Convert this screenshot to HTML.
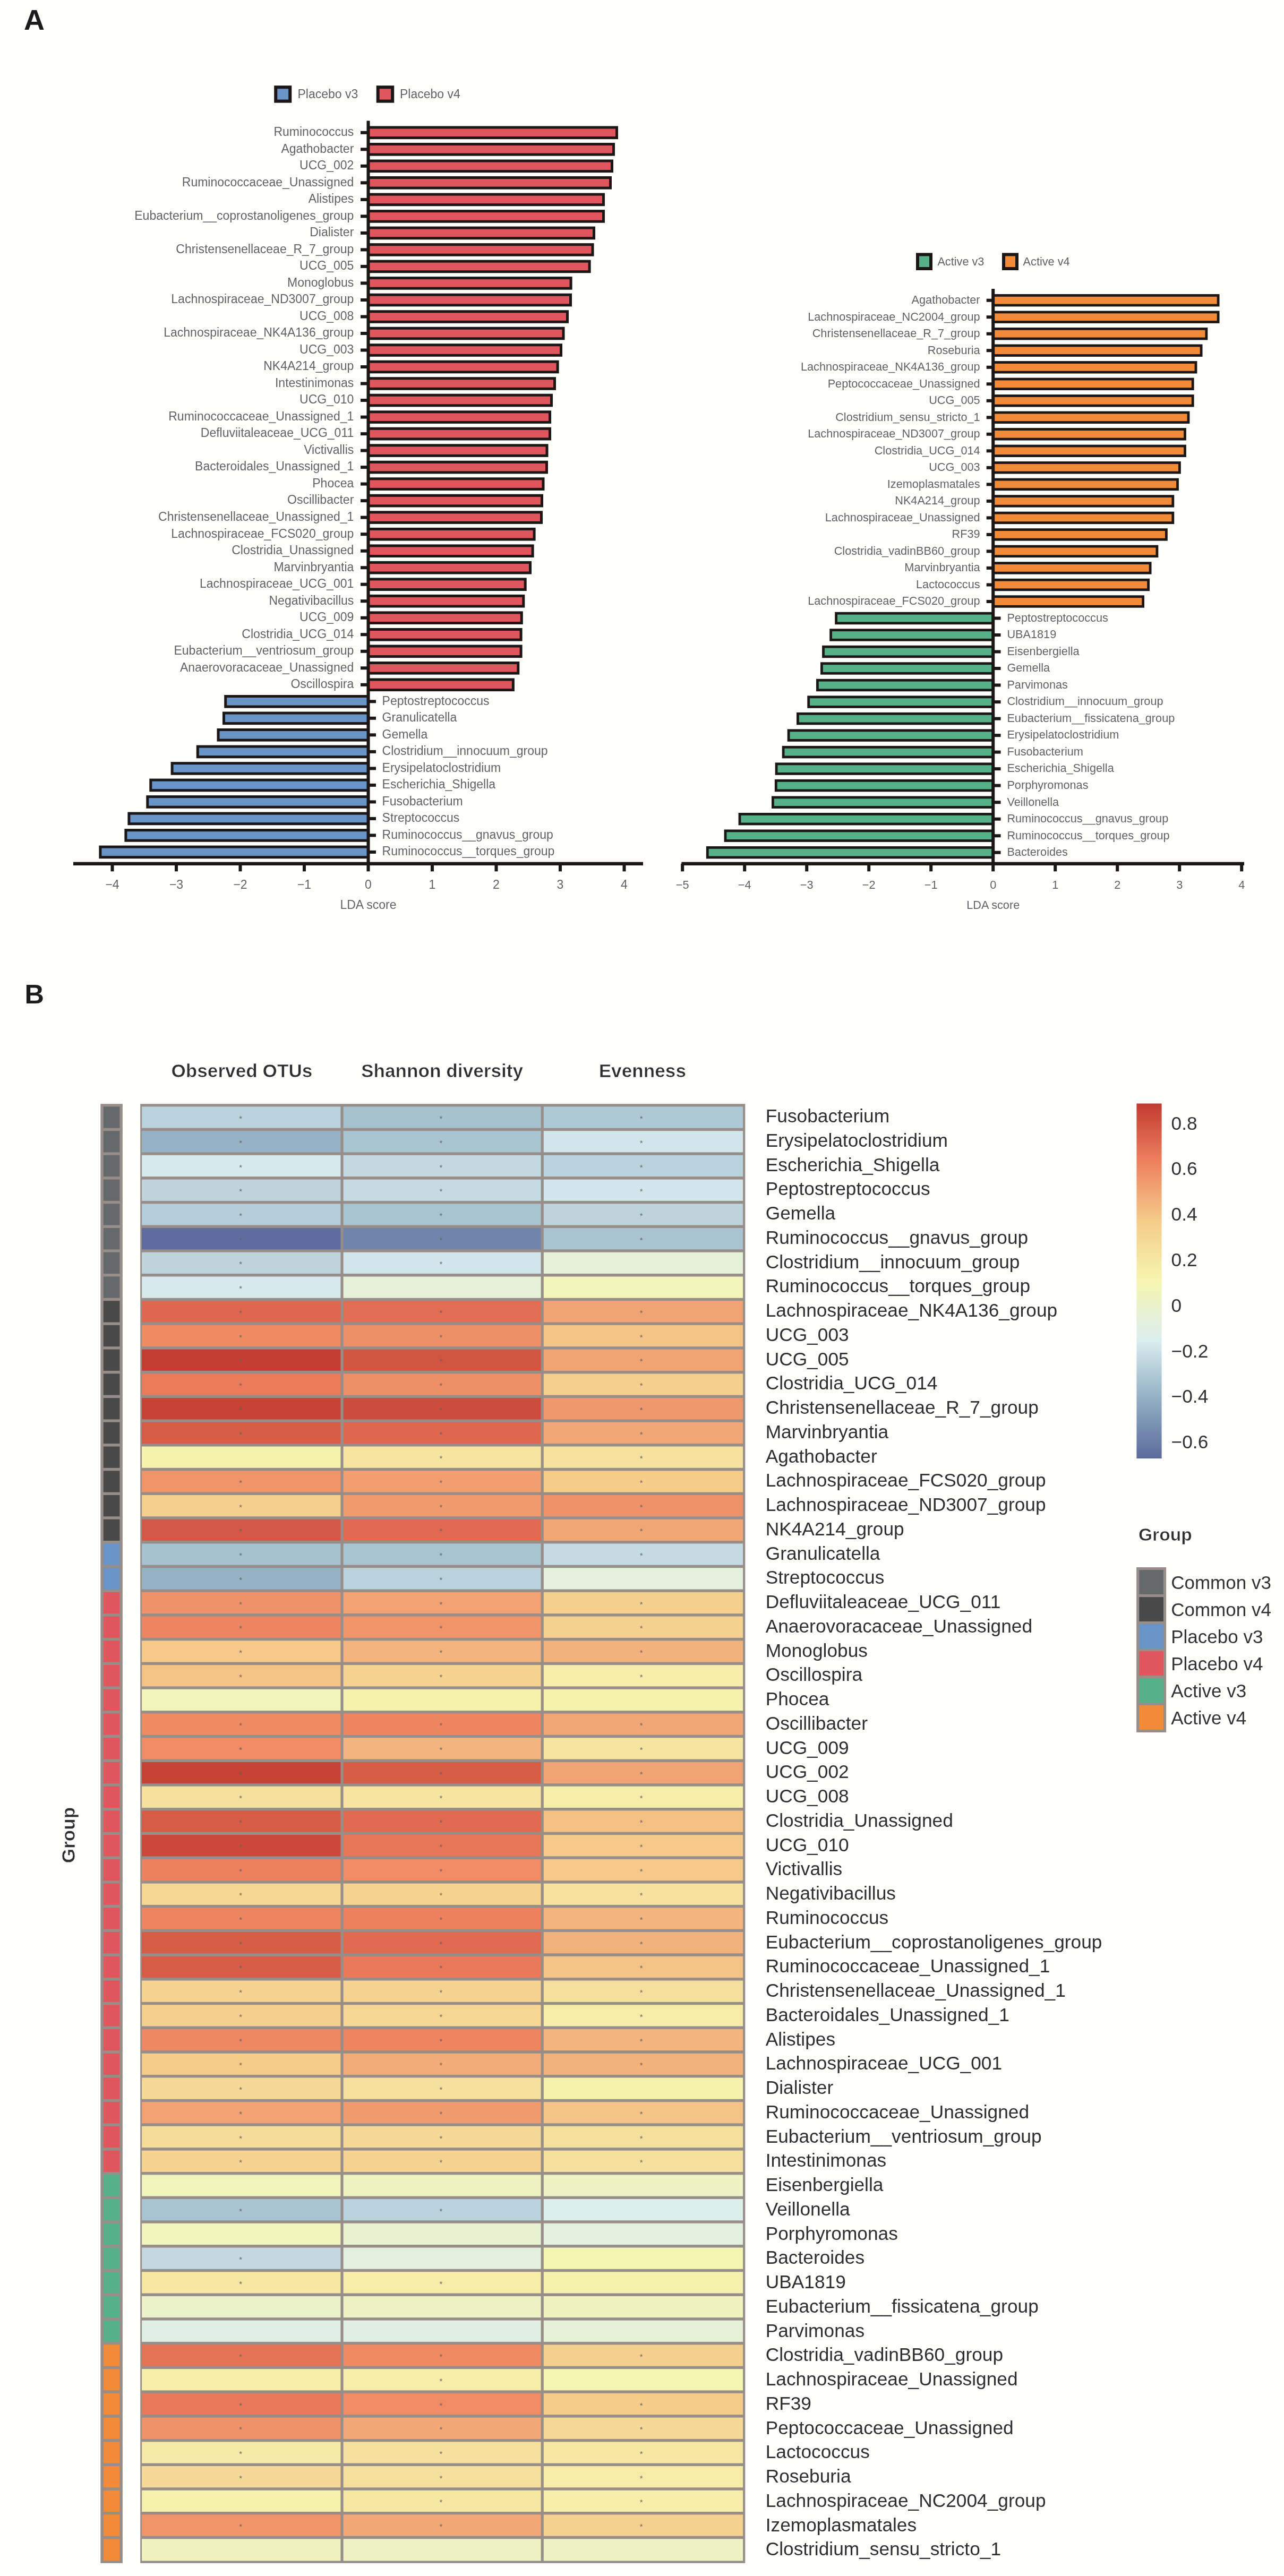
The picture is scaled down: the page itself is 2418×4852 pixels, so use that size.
<!DOCTYPE html>
<html lang="en"><head><meta charset="utf-8"><title>Figure</title>
<style>html,body{margin:0;padding:0;background:#fefefd;}svg{display:block;}</style></head>
<body>
<svg width="2418" height="4852" viewBox="0 0 2418 4852" font-family="'Liberation Sans', Arial, sans-serif">
<rect width="2418" height="4852" fill="#fefefd"/>
<filter id="soft" x="0" y="0" width="2418" height="4852" filterUnits="userSpaceOnUse"><feGaussianBlur stdDeviation="0.55"/></filter>
<g filter="url(#soft)">
<text x="45" y="56" font-size="54" font-weight="bold" fill="#1c1c1c">A</text>
<text x="46.5" y="1890.4" font-size="50.5" font-weight="bold" fill="#1c1c1c">B</text>
<rect x="519.2" y="164.2" width="27" height="26.4" fill="#6794c8" stroke="#1a1614" stroke-width="6"/>
<text x="560.5" y="184.5" font-size="23" fill="#626262">Placebo v3</text>
<rect x="711.7" y="164.2" width="27.5" height="26.4" fill="#e0575b" stroke="#1a1614" stroke-width="6"/>
<text x="753" y="184.5" font-size="23" fill="#626262">Placebo v4</text>
<rect x="1728" y="479.4" width="25" height="26.6" fill="#56b189" stroke="#1a1614" stroke-width="6"/>
<text x="1765.4" y="499.5" font-size="21.7" fill="#626262">Active v3</text>
<rect x="1890" y="479.4" width="25" height="26.6" fill="#f28b39" stroke="#1a1614" stroke-width="6"/>
<text x="1926.6" y="499.5" font-size="21.7" fill="#626262">Active v4</text>
<rect x="693.5" y="240.0" width="468.0" height="19.6" fill="#e0575b" stroke="#1a1614" stroke-width="5.0"/>
<rect x="679.0" y="246.8" width="14.5" height="6" fill="#1a1614"/>
<text x="666.3" y="256.1" text-anchor="end" font-size="23" fill="#626262">Ruminococcus</text>
<rect x="693.5" y="271.5" width="462.0" height="19.6" fill="#e0575b" stroke="#1a1614" stroke-width="5.0"/>
<rect x="679.0" y="278.3" width="14.5" height="6" fill="#1a1614"/>
<text x="666.3" y="287.6" text-anchor="end" font-size="23" fill="#626262">Agathobacter</text>
<rect x="693.5" y="303.0" width="459.0" height="19.6" fill="#e0575b" stroke="#1a1614" stroke-width="5.0"/>
<rect x="679.0" y="309.8" width="14.5" height="6" fill="#1a1614"/>
<text x="666.3" y="319.1" text-anchor="end" font-size="23" fill="#626262">UCG_002</text>
<rect x="693.5" y="334.5" width="456.0" height="19.6" fill="#e0575b" stroke="#1a1614" stroke-width="5.0"/>
<rect x="679.0" y="341.3" width="14.5" height="6" fill="#1a1614"/>
<text x="666.3" y="350.6" text-anchor="end" font-size="23" fill="#626262">Ruminococcaceae_Unassigned</text>
<rect x="693.5" y="366.1" width="443.0" height="19.6" fill="#e0575b" stroke="#1a1614" stroke-width="5.0"/>
<rect x="679.0" y="372.9" width="14.5" height="6" fill="#1a1614"/>
<text x="666.3" y="382.2" text-anchor="end" font-size="23" fill="#626262">Alistipes</text>
<rect x="693.5" y="397.6" width="443.0" height="19.6" fill="#e0575b" stroke="#1a1614" stroke-width="5.0"/>
<rect x="679.0" y="404.4" width="14.5" height="6" fill="#1a1614"/>
<text x="666.3" y="413.7" text-anchor="end" font-size="23" fill="#626262">Eubacterium__coprostanoligenes_group</text>
<rect x="693.5" y="429.1" width="425.0" height="19.6" fill="#e0575b" stroke="#1a1614" stroke-width="5.0"/>
<rect x="679.0" y="435.9" width="14.5" height="6" fill="#1a1614"/>
<text x="666.3" y="445.2" text-anchor="end" font-size="23" fill="#626262">Dialister</text>
<rect x="693.5" y="460.6" width="422.5" height="19.6" fill="#e0575b" stroke="#1a1614" stroke-width="5.0"/>
<rect x="679.0" y="467.4" width="14.5" height="6" fill="#1a1614"/>
<text x="666.3" y="476.7" text-anchor="end" font-size="23" fill="#626262">Christensenellaceae_R_7_group</text>
<rect x="693.5" y="492.1" width="416.6" height="19.6" fill="#e0575b" stroke="#1a1614" stroke-width="5.0"/>
<rect x="679.0" y="498.9" width="14.5" height="6" fill="#1a1614"/>
<text x="666.3" y="508.2" text-anchor="end" font-size="23" fill="#626262">UCG_005</text>
<rect x="693.5" y="523.6" width="381.6" height="19.6" fill="#e0575b" stroke="#1a1614" stroke-width="5.0"/>
<rect x="679.0" y="530.4" width="14.5" height="6" fill="#1a1614"/>
<text x="666.3" y="539.7" text-anchor="end" font-size="23" fill="#626262">Monoglobus</text>
<rect x="693.5" y="555.2" width="381.0" height="19.6" fill="#e0575b" stroke="#1a1614" stroke-width="5.0"/>
<rect x="679.0" y="562.0" width="14.5" height="6" fill="#1a1614"/>
<text x="666.3" y="571.2" text-anchor="end" font-size="23" fill="#626262">Lachnospiraceae_ND3007_group</text>
<rect x="693.5" y="586.7" width="375.0" height="19.6" fill="#e0575b" stroke="#1a1614" stroke-width="5.0"/>
<rect x="679.0" y="593.5" width="14.5" height="6" fill="#1a1614"/>
<text x="666.3" y="602.8" text-anchor="end" font-size="23" fill="#626262">UCG_008</text>
<rect x="693.5" y="618.2" width="367.5" height="19.6" fill="#e0575b" stroke="#1a1614" stroke-width="5.0"/>
<rect x="679.0" y="625.0" width="14.5" height="6" fill="#1a1614"/>
<text x="666.3" y="634.3" text-anchor="end" font-size="23" fill="#626262">Lachnospiraceae_NK4A136_group</text>
<rect x="693.5" y="649.7" width="363.0" height="19.6" fill="#e0575b" stroke="#1a1614" stroke-width="5.0"/>
<rect x="679.0" y="656.5" width="14.5" height="6" fill="#1a1614"/>
<text x="666.3" y="665.8" text-anchor="end" font-size="23" fill="#626262">UCG_003</text>
<rect x="693.5" y="681.2" width="356.6" height="19.6" fill="#e0575b" stroke="#1a1614" stroke-width="5.0"/>
<rect x="679.0" y="688.0" width="14.5" height="6" fill="#1a1614"/>
<text x="666.3" y="697.3" text-anchor="end" font-size="23" fill="#626262">NK4A214_group</text>
<rect x="693.5" y="712.7" width="351.0" height="19.6" fill="#e0575b" stroke="#1a1614" stroke-width="5.0"/>
<rect x="679.0" y="719.5" width="14.5" height="6" fill="#1a1614"/>
<text x="666.3" y="728.8" text-anchor="end" font-size="23" fill="#626262">Intestinimonas</text>
<rect x="693.5" y="744.2" width="345.0" height="19.6" fill="#e0575b" stroke="#1a1614" stroke-width="5.0"/>
<rect x="679.0" y="751.0" width="14.5" height="6" fill="#1a1614"/>
<text x="666.3" y="760.3" text-anchor="end" font-size="23" fill="#626262">UCG_010</text>
<rect x="693.5" y="775.8" width="342.0" height="19.6" fill="#e0575b" stroke="#1a1614" stroke-width="5.0"/>
<rect x="679.0" y="782.6" width="14.5" height="6" fill="#1a1614"/>
<text x="666.3" y="791.9" text-anchor="end" font-size="23" fill="#626262">Ruminococcaceae_Unassigned_1</text>
<rect x="693.5" y="807.3" width="342.0" height="19.6" fill="#e0575b" stroke="#1a1614" stroke-width="5.0"/>
<rect x="679.0" y="814.1" width="14.5" height="6" fill="#1a1614"/>
<text x="666.3" y="823.4" text-anchor="end" font-size="23" fill="#626262">Defluviitaleaceae_UCG_011</text>
<rect x="693.5" y="838.8" width="336.5" height="19.6" fill="#e0575b" stroke="#1a1614" stroke-width="5.0"/>
<rect x="679.0" y="845.6" width="14.5" height="6" fill="#1a1614"/>
<text x="666.3" y="854.9" text-anchor="end" font-size="23" fill="#626262">Victivallis</text>
<rect x="693.5" y="870.3" width="336.0" height="19.6" fill="#e0575b" stroke="#1a1614" stroke-width="5.0"/>
<rect x="679.0" y="877.1" width="14.5" height="6" fill="#1a1614"/>
<text x="666.3" y="886.4" text-anchor="end" font-size="23" fill="#626262">Bacteroidales_Unassigned_1</text>
<rect x="693.5" y="901.8" width="329.5" height="19.6" fill="#e0575b" stroke="#1a1614" stroke-width="5.0"/>
<rect x="679.0" y="908.6" width="14.5" height="6" fill="#1a1614"/>
<text x="666.3" y="917.9" text-anchor="end" font-size="23" fill="#626262">Phocea</text>
<rect x="693.5" y="933.3" width="327.0" height="19.6" fill="#e0575b" stroke="#1a1614" stroke-width="5.0"/>
<rect x="679.0" y="940.1" width="14.5" height="6" fill="#1a1614"/>
<text x="666.3" y="949.4" text-anchor="end" font-size="23" fill="#626262">Oscillibacter</text>
<rect x="693.5" y="964.8" width="326.0" height="19.6" fill="#e0575b" stroke="#1a1614" stroke-width="5.0"/>
<rect x="679.0" y="971.6" width="14.5" height="6" fill="#1a1614"/>
<text x="666.3" y="980.9" text-anchor="end" font-size="23" fill="#626262">Christensenellaceae_Unassigned_1</text>
<rect x="693.5" y="996.4" width="312.6" height="19.6" fill="#e0575b" stroke="#1a1614" stroke-width="5.0"/>
<rect x="679.0" y="1003.2" width="14.5" height="6" fill="#1a1614"/>
<text x="666.3" y="1012.5" text-anchor="end" font-size="23" fill="#626262">Lachnospiraceae_FCS020_group</text>
<rect x="693.5" y="1027.9" width="309.6" height="19.6" fill="#e0575b" stroke="#1a1614" stroke-width="5.0"/>
<rect x="679.0" y="1034.7" width="14.5" height="6" fill="#1a1614"/>
<text x="666.3" y="1044.0" text-anchor="end" font-size="23" fill="#626262">Clostridia_Unassigned</text>
<rect x="693.5" y="1059.4" width="305.0" height="19.6" fill="#e0575b" stroke="#1a1614" stroke-width="5.0"/>
<rect x="679.0" y="1066.2" width="14.5" height="6" fill="#1a1614"/>
<text x="666.3" y="1075.5" text-anchor="end" font-size="23" fill="#626262">Marvinbryantia</text>
<rect x="693.5" y="1090.9" width="295.7" height="19.6" fill="#e0575b" stroke="#1a1614" stroke-width="5.0"/>
<rect x="679.0" y="1097.7" width="14.5" height="6" fill="#1a1614"/>
<text x="666.3" y="1107.0" text-anchor="end" font-size="23" fill="#626262">Lachnospiraceae_UCG_001</text>
<rect x="693.5" y="1122.4" width="292.3" height="19.6" fill="#e0575b" stroke="#1a1614" stroke-width="5.0"/>
<rect x="679.0" y="1129.2" width="14.5" height="6" fill="#1a1614"/>
<text x="666.3" y="1138.5" text-anchor="end" font-size="23" fill="#626262">Negativibacillus</text>
<rect x="693.5" y="1153.9" width="288.8" height="19.6" fill="#e0575b" stroke="#1a1614" stroke-width="5.0"/>
<rect x="679.0" y="1160.7" width="14.5" height="6" fill="#1a1614"/>
<text x="666.3" y="1170.0" text-anchor="end" font-size="23" fill="#626262">UCG_009</text>
<rect x="693.5" y="1185.5" width="287.6" height="19.6" fill="#e0575b" stroke="#1a1614" stroke-width="5.0"/>
<rect x="679.0" y="1192.2" width="14.5" height="6" fill="#1a1614"/>
<text x="666.3" y="1201.5" text-anchor="end" font-size="23" fill="#626262">Clostridia_UCG_014</text>
<rect x="693.5" y="1217.0" width="287.6" height="19.6" fill="#e0575b" stroke="#1a1614" stroke-width="5.0"/>
<rect x="679.0" y="1223.8" width="14.5" height="6" fill="#1a1614"/>
<text x="666.3" y="1233.1" text-anchor="end" font-size="23" fill="#626262">Eubacterium__ventriosum_group</text>
<rect x="693.5" y="1248.5" width="282.3" height="19.6" fill="#e0575b" stroke="#1a1614" stroke-width="5.0"/>
<rect x="679.0" y="1255.3" width="14.5" height="6" fill="#1a1614"/>
<text x="666.3" y="1264.6" text-anchor="end" font-size="23" fill="#626262">Anaerovoracaceae_Unassigned</text>
<rect x="693.5" y="1280.0" width="272.9" height="19.6" fill="#e0575b" stroke="#1a1614" stroke-width="5.0"/>
<rect x="679.0" y="1286.8" width="14.5" height="6" fill="#1a1614"/>
<text x="666.3" y="1296.1" text-anchor="end" font-size="23" fill="#626262">Oscillospira</text>
<rect x="424.7" y="1311.5" width="268.8" height="19.6" fill="#6794c8" stroke="#1a1614" stroke-width="5.0"/>
<rect x="693.5" y="1318.3" width="14.5" height="6" fill="#1a1614"/>
<text x="719.6" y="1327.6" text-anchor="start" font-size="23" fill="#626262">Peptostreptococcus</text>
<rect x="421.5" y="1343.0" width="272.0" height="19.6" fill="#6794c8" stroke="#1a1614" stroke-width="5.0"/>
<rect x="693.5" y="1349.8" width="14.5" height="6" fill="#1a1614"/>
<text x="719.6" y="1359.1" text-anchor="start" font-size="23" fill="#626262">Granulicatella</text>
<rect x="411.0" y="1374.5" width="282.5" height="19.6" fill="#6794c8" stroke="#1a1614" stroke-width="5.0"/>
<rect x="693.5" y="1381.3" width="14.5" height="6" fill="#1a1614"/>
<text x="719.6" y="1390.6" text-anchor="start" font-size="23" fill="#626262">Gemella</text>
<rect x="372.3" y="1406.1" width="321.2" height="19.6" fill="#6794c8" stroke="#1a1614" stroke-width="5.0"/>
<rect x="693.5" y="1412.9" width="14.5" height="6" fill="#1a1614"/>
<text x="719.6" y="1422.2" text-anchor="start" font-size="23" fill="#626262">Clostridium__innocuum_group</text>
<rect x="324.1" y="1437.6" width="369.4" height="19.6" fill="#6794c8" stroke="#1a1614" stroke-width="5.0"/>
<rect x="693.5" y="1444.4" width="14.5" height="6" fill="#1a1614"/>
<text x="719.6" y="1453.7" text-anchor="start" font-size="23" fill="#626262">Erysipelatoclostridium</text>
<rect x="283.8" y="1469.1" width="409.7" height="19.6" fill="#6794c8" stroke="#1a1614" stroke-width="5.0"/>
<rect x="693.5" y="1475.9" width="14.5" height="6" fill="#1a1614"/>
<text x="719.6" y="1485.2" text-anchor="start" font-size="23" fill="#626262">Escherichia_Shigella</text>
<rect x="277.8" y="1500.6" width="415.7" height="19.6" fill="#6794c8" stroke="#1a1614" stroke-width="5.0"/>
<rect x="693.5" y="1507.4" width="14.5" height="6" fill="#1a1614"/>
<text x="719.6" y="1516.7" text-anchor="start" font-size="23" fill="#626262">Fusobacterium</text>
<rect x="242.9" y="1532.1" width="450.6" height="19.6" fill="#6794c8" stroke="#1a1614" stroke-width="5.0"/>
<rect x="693.5" y="1538.9" width="14.5" height="6" fill="#1a1614"/>
<text x="719.6" y="1548.2" text-anchor="start" font-size="23" fill="#626262">Streptococcus</text>
<rect x="236.9" y="1563.6" width="456.6" height="19.6" fill="#6794c8" stroke="#1a1614" stroke-width="5.0"/>
<rect x="693.5" y="1570.4" width="14.5" height="6" fill="#1a1614"/>
<text x="719.6" y="1579.7" text-anchor="start" font-size="23" fill="#626262">Ruminococcus__gnavus_group</text>
<rect x="188.9" y="1595.1" width="504.6" height="19.6" fill="#6794c8" stroke="#1a1614" stroke-width="5.0"/>
<rect x="693.5" y="1601.9" width="14.5" height="6" fill="#1a1614"/>
<text x="719.6" y="1611.2" text-anchor="start" font-size="23" fill="#626262">Ruminococcus__torques_group</text>
<rect x="690.5" y="227.5" width="6" height="1402.3" fill="#1a1614"/>
<rect x="138" y="1623.6" width="1073" height="6.4" fill="#1a1614"/>
<rect x="208.5" y="1626.8" width="6" height="14.5" fill="#1a1614"/>
<text x="211.5" y="1673.5" text-anchor="middle" font-size="23" fill="#626262">−4</text>
<rect x="329.0" y="1626.8" width="6" height="14.5" fill="#1a1614"/>
<text x="332.0" y="1673.5" text-anchor="middle" font-size="23" fill="#626262">−3</text>
<rect x="449.5" y="1626.8" width="6" height="14.5" fill="#1a1614"/>
<text x="452.5" y="1673.5" text-anchor="middle" font-size="23" fill="#626262">−2</text>
<rect x="570.0" y="1626.8" width="6" height="14.5" fill="#1a1614"/>
<text x="573.0" y="1673.5" text-anchor="middle" font-size="23" fill="#626262">−1</text>
<rect x="690.5" y="1626.8" width="6" height="14.5" fill="#1a1614"/>
<text x="693.5" y="1673.5" text-anchor="middle" font-size="23" fill="#626262">0</text>
<rect x="811.0" y="1626.8" width="6" height="14.5" fill="#1a1614"/>
<text x="814.0" y="1673.5" text-anchor="middle" font-size="23" fill="#626262">1</text>
<rect x="931.5" y="1626.8" width="6" height="14.5" fill="#1a1614"/>
<text x="934.5" y="1673.5" text-anchor="middle" font-size="23" fill="#626262">2</text>
<rect x="1052.0" y="1626.8" width="6" height="14.5" fill="#1a1614"/>
<text x="1055.0" y="1673.5" text-anchor="middle" font-size="23" fill="#626262">3</text>
<rect x="1172.5" y="1626.8" width="6" height="14.5" fill="#1a1614"/>
<text x="1175.5" y="1673.5" text-anchor="middle" font-size="23" fill="#626262">4</text>
<text x="693.5" y="1712" text-anchor="middle" font-size="23" fill="#626262">LDA score</text>
<rect x="1870.2" y="556.4" width="423.9" height="18.6" fill="#f28b39" stroke="#1a1614" stroke-width="4.8"/>
<rect x="1857.7" y="562.7" width="12.5" height="6" fill="#1a1614"/>
<text x="1845.6" y="572.0" text-anchor="end" font-size="21.7" fill="#626262">Agathobacter</text>
<rect x="1870.2" y="587.9" width="423.9" height="18.6" fill="#f28b39" stroke="#1a1614" stroke-width="4.8"/>
<rect x="1857.7" y="594.2" width="12.5" height="6" fill="#1a1614"/>
<text x="1845.6" y="603.5" text-anchor="end" font-size="21.7" fill="#626262">Lachnospiraceae_NC2004_group</text>
<rect x="1870.2" y="619.4" width="401.7" height="18.6" fill="#f28b39" stroke="#1a1614" stroke-width="4.8"/>
<rect x="1857.7" y="625.7" width="12.5" height="6" fill="#1a1614"/>
<text x="1845.6" y="635.0" text-anchor="end" font-size="21.7" fill="#626262">Christensenellaceae_R_7_group</text>
<rect x="1870.2" y="650.9" width="391.9" height="18.6" fill="#f28b39" stroke="#1a1614" stroke-width="4.8"/>
<rect x="1857.7" y="657.2" width="12.5" height="6" fill="#1a1614"/>
<text x="1845.6" y="666.5" text-anchor="end" font-size="21.7" fill="#626262">Roseburia</text>
<rect x="1870.2" y="682.5" width="381.8" height="18.6" fill="#f28b39" stroke="#1a1614" stroke-width="4.8"/>
<rect x="1857.7" y="688.8" width="12.5" height="6" fill="#1a1614"/>
<text x="1845.6" y="698.1" text-anchor="end" font-size="21.7" fill="#626262">Lachnospiraceae_NK4A136_group</text>
<rect x="1870.2" y="714.0" width="376.0" height="18.6" fill="#f28b39" stroke="#1a1614" stroke-width="4.8"/>
<rect x="1857.7" y="720.3" width="12.5" height="6" fill="#1a1614"/>
<text x="1845.6" y="729.6" text-anchor="end" font-size="21.7" fill="#626262">Peptococcaceae_Unassigned</text>
<rect x="1870.2" y="745.5" width="376.0" height="18.6" fill="#f28b39" stroke="#1a1614" stroke-width="4.8"/>
<rect x="1857.7" y="751.8" width="12.5" height="6" fill="#1a1614"/>
<text x="1845.6" y="761.1" text-anchor="end" font-size="21.7" fill="#626262">UCG_005</text>
<rect x="1870.2" y="777.0" width="367.8" height="18.6" fill="#f28b39" stroke="#1a1614" stroke-width="4.8"/>
<rect x="1857.7" y="783.3" width="12.5" height="6" fill="#1a1614"/>
<text x="1845.6" y="792.6" text-anchor="end" font-size="21.7" fill="#626262">Clostridium_sensu_stricto_1</text>
<rect x="1870.2" y="808.5" width="361.3" height="18.6" fill="#f28b39" stroke="#1a1614" stroke-width="4.8"/>
<rect x="1857.7" y="814.8" width="12.5" height="6" fill="#1a1614"/>
<text x="1845.6" y="824.1" text-anchor="end" font-size="21.7" fill="#626262">Lachnospiraceae_ND3007_group</text>
<rect x="1870.2" y="840.0" width="361.3" height="18.6" fill="#f28b39" stroke="#1a1614" stroke-width="4.8"/>
<rect x="1857.7" y="846.3" width="12.5" height="6" fill="#1a1614"/>
<text x="1845.6" y="855.6" text-anchor="end" font-size="21.7" fill="#626262">Clostridia_UCG_014</text>
<rect x="1870.2" y="871.5" width="351.2" height="18.6" fill="#f28b39" stroke="#1a1614" stroke-width="4.8"/>
<rect x="1857.7" y="877.9" width="12.5" height="6" fill="#1a1614"/>
<text x="1845.6" y="887.1" text-anchor="end" font-size="21.7" fill="#626262">UCG_003</text>
<rect x="1870.2" y="903.1" width="347.3" height="18.6" fill="#f28b39" stroke="#1a1614" stroke-width="4.8"/>
<rect x="1857.7" y="909.4" width="12.5" height="6" fill="#1a1614"/>
<text x="1845.6" y="918.7" text-anchor="end" font-size="21.7" fill="#626262">Izemoplasmatales</text>
<rect x="1870.2" y="934.6" width="338.6" height="18.6" fill="#f28b39" stroke="#1a1614" stroke-width="4.8"/>
<rect x="1857.7" y="940.9" width="12.5" height="6" fill="#1a1614"/>
<text x="1845.6" y="950.2" text-anchor="end" font-size="21.7" fill="#626262">NK4A214_group</text>
<rect x="1870.2" y="966.1" width="338.6" height="18.6" fill="#f28b39" stroke="#1a1614" stroke-width="4.8"/>
<rect x="1857.7" y="972.4" width="12.5" height="6" fill="#1a1614"/>
<text x="1845.6" y="981.7" text-anchor="end" font-size="21.7" fill="#626262">Lachnospiraceae_Unassigned</text>
<rect x="1870.2" y="997.6" width="326.2" height="18.6" fill="#f28b39" stroke="#1a1614" stroke-width="4.8"/>
<rect x="1857.7" y="1003.9" width="12.5" height="6" fill="#1a1614"/>
<text x="1845.6" y="1013.2" text-anchor="end" font-size="21.7" fill="#626262">RF39</text>
<rect x="1870.2" y="1029.1" width="308.7" height="18.6" fill="#f28b39" stroke="#1a1614" stroke-width="4.8"/>
<rect x="1857.7" y="1035.4" width="12.5" height="6" fill="#1a1614"/>
<text x="1845.6" y="1044.7" text-anchor="end" font-size="21.7" fill="#626262">Clostridia_vadinBB60_group</text>
<rect x="1870.2" y="1060.6" width="295.9" height="18.6" fill="#f28b39" stroke="#1a1614" stroke-width="4.8"/>
<rect x="1857.7" y="1066.9" width="12.5" height="6" fill="#1a1614"/>
<text x="1845.6" y="1076.2" text-anchor="end" font-size="21.7" fill="#626262">Marvinbryantia</text>
<rect x="1870.2" y="1092.2" width="292.4" height="18.6" fill="#f28b39" stroke="#1a1614" stroke-width="4.8"/>
<rect x="1857.7" y="1098.5" width="12.5" height="6" fill="#1a1614"/>
<text x="1845.6" y="1107.8" text-anchor="end" font-size="21.7" fill="#626262">Lactococcus</text>
<rect x="1870.2" y="1123.7" width="282.4" height="18.6" fill="#f28b39" stroke="#1a1614" stroke-width="4.8"/>
<rect x="1857.7" y="1130.0" width="12.5" height="6" fill="#1a1614"/>
<text x="1845.6" y="1139.3" text-anchor="end" font-size="21.7" fill="#626262">Lachnospiraceae_FCS020_group</text>
<rect x="1574.6" y="1155.2" width="295.6" height="18.6" fill="#56b189" stroke="#1a1614" stroke-width="4.8"/>
<rect x="1870.2" y="1161.5" width="14.3" height="6" fill="#1a1614"/>
<text x="1896.4" y="1170.8" text-anchor="start" font-size="21.7" fill="#626262">Peptostreptococcus</text>
<rect x="1564.6" y="1186.7" width="305.6" height="18.6" fill="#56b189" stroke="#1a1614" stroke-width="4.8"/>
<rect x="1870.2" y="1193.0" width="14.3" height="6" fill="#1a1614"/>
<text x="1896.4" y="1202.3" text-anchor="start" font-size="21.7" fill="#626262">UBA1819</text>
<rect x="1550.5" y="1218.2" width="319.7" height="18.6" fill="#56b189" stroke="#1a1614" stroke-width="4.8"/>
<rect x="1870.2" y="1224.5" width="14.3" height="6" fill="#1a1614"/>
<text x="1896.4" y="1233.8" text-anchor="start" font-size="21.7" fill="#626262">Eisenbergiella</text>
<rect x="1547.4" y="1249.7" width="322.8" height="18.6" fill="#56b189" stroke="#1a1614" stroke-width="4.8"/>
<rect x="1870.2" y="1256.0" width="14.3" height="6" fill="#1a1614"/>
<text x="1896.4" y="1265.3" text-anchor="start" font-size="21.7" fill="#626262">Gemella</text>
<rect x="1539.4" y="1281.2" width="330.8" height="18.6" fill="#56b189" stroke="#1a1614" stroke-width="4.8"/>
<rect x="1870.2" y="1287.5" width="14.3" height="6" fill="#1a1614"/>
<text x="1896.4" y="1296.8" text-anchor="start" font-size="21.7" fill="#626262">Parvimonas</text>
<rect x="1522.7" y="1312.8" width="347.5" height="18.6" fill="#56b189" stroke="#1a1614" stroke-width="4.8"/>
<rect x="1870.2" y="1319.1" width="14.3" height="6" fill="#1a1614"/>
<text x="1896.4" y="1328.4" text-anchor="start" font-size="21.7" fill="#626262">Clostridium__innocuum_group</text>
<rect x="1502.4" y="1344.3" width="367.8" height="18.6" fill="#56b189" stroke="#1a1614" stroke-width="4.8"/>
<rect x="1870.2" y="1350.6" width="14.3" height="6" fill="#1a1614"/>
<text x="1896.4" y="1359.9" text-anchor="start" font-size="21.7" fill="#626262">Eubacterium__fissicatena_group</text>
<rect x="1485.1" y="1375.8" width="385.1" height="18.6" fill="#56b189" stroke="#1a1614" stroke-width="4.8"/>
<rect x="1870.2" y="1382.1" width="14.3" height="6" fill="#1a1614"/>
<text x="1896.4" y="1391.4" text-anchor="start" font-size="21.7" fill="#626262">Erysipelatoclostridium</text>
<rect x="1475.1" y="1407.3" width="395.1" height="18.6" fill="#56b189" stroke="#1a1614" stroke-width="4.8"/>
<rect x="1870.2" y="1413.6" width="14.3" height="6" fill="#1a1614"/>
<text x="1896.4" y="1422.9" text-anchor="start" font-size="21.7" fill="#626262">Fusobacterium</text>
<rect x="1462.1" y="1438.8" width="408.1" height="18.6" fill="#56b189" stroke="#1a1614" stroke-width="4.8"/>
<rect x="1870.2" y="1445.1" width="14.3" height="6" fill="#1a1614"/>
<text x="1896.4" y="1454.4" text-anchor="start" font-size="21.7" fill="#626262">Escherichia_Shigella</text>
<rect x="1461.3" y="1470.3" width="408.9" height="18.6" fill="#56b189" stroke="#1a1614" stroke-width="4.8"/>
<rect x="1870.2" y="1476.6" width="14.3" height="6" fill="#1a1614"/>
<text x="1896.4" y="1485.9" text-anchor="start" font-size="21.7" fill="#626262">Porphyromonas</text>
<rect x="1455.4" y="1501.9" width="414.8" height="18.6" fill="#56b189" stroke="#1a1614" stroke-width="4.8"/>
<rect x="1870.2" y="1508.2" width="14.3" height="6" fill="#1a1614"/>
<text x="1896.4" y="1517.5" text-anchor="start" font-size="21.7" fill="#626262">Veillonella</text>
<rect x="1393.0" y="1533.4" width="477.2" height="18.6" fill="#56b189" stroke="#1a1614" stroke-width="4.8"/>
<rect x="1870.2" y="1539.7" width="14.3" height="6" fill="#1a1614"/>
<text x="1896.4" y="1549.0" text-anchor="start" font-size="21.7" fill="#626262">Ruminococcus__gnavus_group</text>
<rect x="1366.0" y="1564.9" width="504.2" height="18.6" fill="#56b189" stroke="#1a1614" stroke-width="4.8"/>
<rect x="1870.2" y="1571.2" width="14.3" height="6" fill="#1a1614"/>
<text x="1896.4" y="1580.5" text-anchor="start" font-size="21.7" fill="#626262">Ruminococcus__torques_group</text>
<rect x="1332.3" y="1596.4" width="537.9" height="18.6" fill="#56b189" stroke="#1a1614" stroke-width="4.8"/>
<rect x="1870.2" y="1602.7" width="14.3" height="6" fill="#1a1614"/>
<text x="1896.4" y="1612.0" text-anchor="start" font-size="21.7" fill="#626262">Bacteroides</text>
<rect x="1867.2" y="544" width="6" height="1085.8" fill="#1a1614"/>
<rect x="1283.4" y="1623.6" width="1059.6" height="6.4" fill="#1a1614"/>
<rect x="1282.2" y="1626.8" width="6" height="14.5" fill="#1a1614"/>
<text x="1285.2" y="1673.5" text-anchor="middle" font-size="21.7" fill="#626262">−5</text>
<rect x="1399.2" y="1626.8" width="6" height="14.5" fill="#1a1614"/>
<text x="1402.2" y="1673.5" text-anchor="middle" font-size="21.7" fill="#626262">−4</text>
<rect x="1516.2" y="1626.8" width="6" height="14.5" fill="#1a1614"/>
<text x="1519.2" y="1673.5" text-anchor="middle" font-size="21.7" fill="#626262">−3</text>
<rect x="1633.2" y="1626.8" width="6" height="14.5" fill="#1a1614"/>
<text x="1636.2" y="1673.5" text-anchor="middle" font-size="21.7" fill="#626262">−2</text>
<rect x="1750.2" y="1626.8" width="6" height="14.5" fill="#1a1614"/>
<text x="1753.2" y="1673.5" text-anchor="middle" font-size="21.7" fill="#626262">−1</text>
<rect x="1867.2" y="1626.8" width="6" height="14.5" fill="#1a1614"/>
<text x="1870.2" y="1673.5" text-anchor="middle" font-size="21.7" fill="#626262">0</text>
<rect x="1984.2" y="1626.8" width="6" height="14.5" fill="#1a1614"/>
<text x="1987.2" y="1673.5" text-anchor="middle" font-size="21.7" fill="#626262">1</text>
<rect x="2101.2" y="1626.8" width="6" height="14.5" fill="#1a1614"/>
<text x="2104.2" y="1673.5" text-anchor="middle" font-size="21.7" fill="#626262">2</text>
<rect x="2218.2" y="1626.8" width="6" height="14.5" fill="#1a1614"/>
<text x="2221.2" y="1673.5" text-anchor="middle" font-size="21.7" fill="#626262">3</text>
<rect x="2335.2" y="1626.8" width="6" height="14.5" fill="#1a1614"/>
<text x="2338.2" y="1673.5" text-anchor="middle" font-size="21.7" fill="#626262">4</text>
<text x="1870.2" y="1712" text-anchor="middle" font-size="21.7" fill="#626262">LDA score</text>
<rect x="189.3" y="2079.2" width="41.6" height="2748.6" fill="#978d89"/>
<rect x="264.2" y="2079.2" width="1139.1" height="2748.6" fill="#978d89"/>
<rect x="194.8" y="2084.4" width="30.6" height="40.3" fill="#65696c"/>
<rect x="267.1" y="2084.4" width="374.3" height="40.3" fill="#bad2dc"/>
<text x="453.2" y="2112.1" text-anchor="middle" font-size="15" fill="#67615f">*</text>
<rect x="646.6" y="2084.4" width="372.0" height="40.3" fill="#a6c1d0"/>
<text x="830.4" y="2112.1" text-anchor="middle" font-size="15" fill="#67615f">*</text>
<rect x="1023.8" y="2084.4" width="375.3" height="40.3" fill="#afc8d5"/>
<text x="1207.6" y="2112.1" text-anchor="middle" font-size="15" fill="#67615f">*</text>
<text x="1441.7" y="2114.1" font-size="35.3" fill="#2e2e2e">Fusobacterium</text>
<rect x="194.8" y="2130.1" width="30.6" height="40.3" fill="#65696c"/>
<rect x="267.1" y="2130.1" width="374.3" height="40.3" fill="#96b2c5"/>
<text x="453.2" y="2157.8" text-anchor="middle" font-size="15" fill="#67615f">*</text>
<rect x="646.6" y="2130.1" width="372.0" height="40.3" fill="#a9c3d1"/>
<text x="830.4" y="2157.8" text-anchor="middle" font-size="15" fill="#67615f">*</text>
<rect x="1023.8" y="2130.1" width="375.3" height="40.3" fill="#d1e5ea"/>
<text x="1207.6" y="2157.8" text-anchor="middle" font-size="15" fill="#67615f">*</text>
<text x="1441.7" y="2159.8" font-size="35.3" fill="#2e2e2e">Erysipelatoclostridium</text>
<rect x="194.8" y="2175.8" width="30.6" height="40.3" fill="#65696c"/>
<rect x="267.1" y="2175.8" width="374.3" height="40.3" fill="#d6eaed"/>
<text x="453.2" y="2203.5" text-anchor="middle" font-size="15" fill="#67615f">*</text>
<rect x="646.6" y="2175.8" width="372.0" height="40.3" fill="#c3d9e1"/>
<text x="830.4" y="2203.5" text-anchor="middle" font-size="15" fill="#67615f">*</text>
<rect x="1023.8" y="2175.8" width="375.3" height="40.3" fill="#bad2dc"/>
<text x="1207.6" y="2203.5" text-anchor="middle" font-size="15" fill="#67615f">*</text>
<text x="1441.7" y="2205.6" font-size="35.3" fill="#2e2e2e">Escherichia_Shigella</text>
<rect x="194.8" y="2221.6" width="30.6" height="40.3" fill="#65696c"/>
<rect x="267.1" y="2221.6" width="374.3" height="40.3" fill="#bdd4dd"/>
<text x="453.2" y="2249.2" text-anchor="middle" font-size="15" fill="#67615f">*</text>
<rect x="646.6" y="2221.6" width="372.0" height="40.3" fill="#c5dbe3"/>
<text x="830.4" y="2249.2" text-anchor="middle" font-size="15" fill="#67615f">*</text>
<rect x="1023.8" y="2221.6" width="375.3" height="40.3" fill="#d1e5ea"/>
<text x="1207.6" y="2249.2" text-anchor="middle" font-size="15" fill="#67615f">*</text>
<text x="1441.7" y="2251.3" font-size="35.3" fill="#2e2e2e">Peptostreptococcus</text>
<rect x="194.8" y="2267.3" width="30.6" height="40.3" fill="#65696c"/>
<rect x="267.1" y="2267.3" width="374.3" height="40.3" fill="#b5cdd8"/>
<text x="453.2" y="2295.0" text-anchor="middle" font-size="15" fill="#67615f">*</text>
<rect x="646.6" y="2267.3" width="372.0" height="40.3" fill="#a9c3d1"/>
<text x="830.4" y="2295.0" text-anchor="middle" font-size="15" fill="#67615f">*</text>
<rect x="1023.8" y="2267.3" width="375.3" height="40.3" fill="#bdd4dd"/>
<text x="1207.6" y="2295.0" text-anchor="middle" font-size="15" fill="#67615f">*</text>
<text x="1441.7" y="2297.1" font-size="35.3" fill="#2e2e2e">Gemella</text>
<rect x="194.8" y="2313.0" width="30.6" height="40.3" fill="#65696c"/>
<rect x="267.1" y="2313.0" width="374.3" height="40.3" fill="#5e6d9e"/>
<text x="453.2" y="2340.7" text-anchor="middle" font-size="15" fill="#67615f">*</text>
<rect x="646.6" y="2313.0" width="372.0" height="40.3" fill="#7185ab"/>
<text x="830.4" y="2340.7" text-anchor="middle" font-size="15" fill="#67615f">*</text>
<rect x="1023.8" y="2313.0" width="375.3" height="40.3" fill="#a9c3d1"/>
<text x="1207.6" y="2340.7" text-anchor="middle" font-size="15" fill="#67615f">*</text>
<text x="1441.7" y="2342.8" font-size="35.3" fill="#2e2e2e">Ruminococcus__gnavus_group</text>
<rect x="194.8" y="2358.7" width="30.6" height="40.3" fill="#65696c"/>
<rect x="267.1" y="2358.7" width="374.3" height="40.3" fill="#bdd4dd"/>
<text x="453.2" y="2386.4" text-anchor="middle" font-size="15" fill="#67615f">*</text>
<rect x="646.6" y="2358.7" width="372.0" height="40.3" fill="#d1e5ea"/>
<text x="830.4" y="2386.4" text-anchor="middle" font-size="15" fill="#67615f">*</text>
<rect x="1023.8" y="2358.7" width="375.3" height="40.3" fill="#e5f1d9"/>
<text x="1441.7" y="2388.6" font-size="35.3" fill="#2e2e2e">Clostridium__innocuum_group</text>
<rect x="194.8" y="2404.5" width="30.6" height="40.3" fill="#65696c"/>
<rect x="267.1" y="2404.5" width="374.3" height="40.3" fill="#d6eaed"/>
<text x="453.2" y="2432.1" text-anchor="middle" font-size="15" fill="#67615f">*</text>
<rect x="646.6" y="2404.5" width="372.0" height="40.3" fill="#e5f1d9"/>
<rect x="1023.8" y="2404.5" width="375.3" height="40.3" fill="#f2f4b9"/>
<text x="1441.7" y="2434.3" font-size="35.3" fill="#2e2e2e">Ruminococcus__torques_group</text>
<rect x="194.8" y="2450.2" width="30.6" height="40.3" fill="#484848"/>
<rect x="267.1" y="2450.2" width="374.3" height="40.3" fill="#de684f"/>
<text x="453.2" y="2477.9" text-anchor="middle" font-size="15" fill="#67615f">*</text>
<rect x="646.6" y="2450.2" width="372.0" height="40.3" fill="#e16e52"/>
<text x="830.4" y="2477.9" text-anchor="middle" font-size="15" fill="#67615f">*</text>
<rect x="1023.8" y="2450.2" width="375.3" height="40.3" fill="#f1a373"/>
<text x="1207.6" y="2477.9" text-anchor="middle" font-size="15" fill="#67615f">*</text>
<text x="1441.7" y="2480.1" font-size="35.3" fill="#2e2e2e">Lachnospiraceae_NK4A136_group</text>
<rect x="194.8" y="2495.9" width="30.6" height="40.3" fill="#484848"/>
<rect x="267.1" y="2495.9" width="374.3" height="40.3" fill="#ef8a64"/>
<text x="453.2" y="2523.6" text-anchor="middle" font-size="15" fill="#67615f">*</text>
<rect x="646.6" y="2495.9" width="372.0" height="40.3" fill="#ef8f68"/>
<text x="830.4" y="2523.6" text-anchor="middle" font-size="15" fill="#67615f">*</text>
<rect x="1023.8" y="2495.9" width="375.3" height="40.3" fill="#f4c385"/>
<text x="1207.6" y="2523.6" text-anchor="middle" font-size="15" fill="#67615f">*</text>
<text x="1441.7" y="2525.8" font-size="35.3" fill="#2e2e2e">UCG_003</text>
<rect x="194.8" y="2541.6" width="30.6" height="40.3" fill="#484848"/>
<rect x="267.1" y="2541.6" width="374.3" height="40.3" fill="#c33d31"/>
<text x="453.2" y="2569.3" text-anchor="middle" font-size="15" fill="#67615f">*</text>
<rect x="646.6" y="2541.6" width="372.0" height="40.3" fill="#d25542"/>
<text x="830.4" y="2569.3" text-anchor="middle" font-size="15" fill="#67615f">*</text>
<rect x="1023.8" y="2541.6" width="375.3" height="40.3" fill="#f1a373"/>
<text x="1207.6" y="2569.3" text-anchor="middle" font-size="15" fill="#67615f">*</text>
<text x="1441.7" y="2571.6" font-size="35.3" fill="#2e2e2e">UCG_005</text>
<rect x="194.8" y="2587.4" width="30.6" height="40.3" fill="#484848"/>
<rect x="267.1" y="2587.4" width="374.3" height="40.3" fill="#ea7b5c"/>
<text x="453.2" y="2615.0" text-anchor="middle" font-size="15" fill="#67615f">*</text>
<rect x="646.6" y="2587.4" width="372.0" height="40.3" fill="#ef8f68"/>
<text x="830.4" y="2615.0" text-anchor="middle" font-size="15" fill="#67615f">*</text>
<rect x="1023.8" y="2587.4" width="375.3" height="40.3" fill="#f5cf8d"/>
<text x="1207.6" y="2615.0" text-anchor="middle" font-size="15" fill="#67615f">*</text>
<text x="1441.7" y="2617.3" font-size="35.3" fill="#2e2e2e">Clostridia_UCG_014</text>
<rect x="194.8" y="2633.1" width="30.6" height="40.3" fill="#484848"/>
<rect x="267.1" y="2633.1" width="374.3" height="40.3" fill="#c64235"/>
<text x="453.2" y="2660.8" text-anchor="middle" font-size="15" fill="#67615f">*</text>
<rect x="646.6" y="2633.1" width="372.0" height="40.3" fill="#cd4d3c"/>
<text x="830.4" y="2660.8" text-anchor="middle" font-size="15" fill="#67615f">*</text>
<rect x="1023.8" y="2633.1" width="375.3" height="40.3" fill="#f0986d"/>
<text x="1207.6" y="2660.8" text-anchor="middle" font-size="15" fill="#67615f">*</text>
<text x="1441.7" y="2663.1" font-size="35.3" fill="#2e2e2e">Christensenellaceae_R_7_group</text>
<rect x="194.8" y="2678.8" width="30.6" height="40.3" fill="#484848"/>
<rect x="267.1" y="2678.8" width="374.3" height="40.3" fill="#d75d47"/>
<text x="453.2" y="2706.5" text-anchor="middle" font-size="15" fill="#67615f">*</text>
<rect x="646.6" y="2678.8" width="372.0" height="40.3" fill="#de684f"/>
<text x="830.4" y="2706.5" text-anchor="middle" font-size="15" fill="#67615f">*</text>
<rect x="1023.8" y="2678.8" width="375.3" height="40.3" fill="#f1a675"/>
<text x="1207.6" y="2706.5" text-anchor="middle" font-size="15" fill="#67615f">*</text>
<text x="1441.7" y="2708.8" font-size="35.3" fill="#2e2e2e">Marvinbryantia</text>
<rect x="194.8" y="2724.5" width="30.6" height="40.3" fill="#484848"/>
<rect x="267.1" y="2724.5" width="374.3" height="40.3" fill="#f6f3ae"/>
<rect x="646.6" y="2724.5" width="372.0" height="40.3" fill="#f6e5a1"/>
<text x="830.4" y="2752.2" text-anchor="middle" font-size="15" fill="#67615f">*</text>
<rect x="1023.8" y="2724.5" width="375.3" height="40.3" fill="#f6e29e"/>
<text x="1207.6" y="2752.2" text-anchor="middle" font-size="15" fill="#67615f">*</text>
<text x="1441.7" y="2754.6" font-size="35.3" fill="#2e2e2e">Agathobacter</text>
<rect x="194.8" y="2770.3" width="30.6" height="40.3" fill="#484848"/>
<rect x="267.1" y="2770.3" width="374.3" height="40.3" fill="#f0956b"/>
<text x="453.2" y="2797.9" text-anchor="middle" font-size="15" fill="#67615f">*</text>
<rect x="646.6" y="2770.3" width="372.0" height="40.3" fill="#f19e70"/>
<text x="830.4" y="2797.9" text-anchor="middle" font-size="15" fill="#67615f">*</text>
<rect x="1023.8" y="2770.3" width="375.3" height="40.3" fill="#f5cc8a"/>
<text x="1207.6" y="2797.9" text-anchor="middle" font-size="15" fill="#67615f">*</text>
<text x="1441.7" y="2800.3" font-size="35.3" fill="#2e2e2e">Lachnospiraceae_FCS020_group</text>
<rect x="194.8" y="2816.0" width="30.6" height="40.3" fill="#484848"/>
<rect x="267.1" y="2816.0" width="374.3" height="40.3" fill="#f5cf8d"/>
<text x="453.2" y="2843.7" text-anchor="middle" font-size="15" fill="#67615f">*</text>
<rect x="646.6" y="2816.0" width="372.0" height="40.3" fill="#f09b6e"/>
<text x="830.4" y="2843.7" text-anchor="middle" font-size="15" fill="#67615f">*</text>
<rect x="1023.8" y="2816.0" width="375.3" height="40.3" fill="#f09269"/>
<text x="1207.6" y="2843.7" text-anchor="middle" font-size="15" fill="#67615f">*</text>
<text x="1441.7" y="2846.1" font-size="35.3" fill="#2e2e2e">Lachnospiraceae_ND3007_group</text>
<rect x="194.8" y="2861.7" width="30.6" height="40.3" fill="#484848"/>
<rect x="267.1" y="2861.7" width="374.3" height="40.3" fill="#d45844"/>
<text x="453.2" y="2889.4" text-anchor="middle" font-size="15" fill="#67615f">*</text>
<rect x="646.6" y="2861.7" width="372.0" height="40.3" fill="#e06b50"/>
<text x="830.4" y="2889.4" text-anchor="middle" font-size="15" fill="#67615f">*</text>
<rect x="1023.8" y="2861.7" width="375.3" height="40.3" fill="#f1a675"/>
<text x="1207.6" y="2889.4" text-anchor="middle" font-size="15" fill="#67615f">*</text>
<text x="1441.7" y="2891.8" font-size="35.3" fill="#2e2e2e">NK4A214_group</text>
<rect x="194.8" y="2907.4" width="30.6" height="40.3" fill="#6794c8"/>
<rect x="267.1" y="2907.4" width="374.3" height="40.3" fill="#a6c1d0"/>
<text x="453.2" y="2935.1" text-anchor="middle" font-size="15" fill="#67615f">*</text>
<rect x="646.6" y="2907.4" width="372.0" height="40.3" fill="#a9c3d1"/>
<text x="830.4" y="2935.1" text-anchor="middle" font-size="15" fill="#67615f">*</text>
<rect x="1023.8" y="2907.4" width="375.3" height="40.3" fill="#c5dbe3"/>
<text x="1207.6" y="2935.1" text-anchor="middle" font-size="15" fill="#67615f">*</text>
<text x="1441.7" y="2937.6" font-size="35.3" fill="#2e2e2e">Granulicatella</text>
<rect x="194.8" y="2953.2" width="30.6" height="40.3" fill="#6794c8"/>
<rect x="267.1" y="2953.2" width="374.3" height="40.3" fill="#96b2c5"/>
<text x="453.2" y="2980.8" text-anchor="middle" font-size="15" fill="#67615f">*</text>
<rect x="646.6" y="2953.2" width="372.0" height="40.3" fill="#bad2dc"/>
<text x="830.4" y="2980.8" text-anchor="middle" font-size="15" fill="#67615f">*</text>
<rect x="1023.8" y="2953.2" width="375.3" height="40.3" fill="#e4f0dc"/>
<text x="1441.7" y="2983.3" font-size="35.3" fill="#2e2e2e">Streptococcus</text>
<rect x="194.8" y="2998.9" width="30.6" height="40.3" fill="#e0575b"/>
<rect x="267.1" y="2998.9" width="374.3" height="40.3" fill="#f09269"/>
<text x="453.2" y="3026.6" text-anchor="middle" font-size="15" fill="#67615f">*</text>
<rect x="646.6" y="2998.9" width="372.0" height="40.3" fill="#f1a172"/>
<text x="830.4" y="3026.6" text-anchor="middle" font-size="15" fill="#67615f">*</text>
<rect x="1023.8" y="2998.9" width="375.3" height="40.3" fill="#f5cf8d"/>
<text x="1207.6" y="3026.6" text-anchor="middle" font-size="15" fill="#67615f">*</text>
<text x="1441.7" y="3029.1" font-size="35.3" fill="#2e2e2e">Defluviitaleaceae_UCG_011</text>
<rect x="194.8" y="3044.6" width="30.6" height="40.3" fill="#e0575b"/>
<rect x="267.1" y="3044.6" width="374.3" height="40.3" fill="#ee8461"/>
<text x="453.2" y="3072.3" text-anchor="middle" font-size="15" fill="#67615f">*</text>
<rect x="646.6" y="3044.6" width="372.0" height="40.3" fill="#f0956b"/>
<text x="830.4" y="3072.3" text-anchor="middle" font-size="15" fill="#67615f">*</text>
<rect x="1023.8" y="3044.6" width="375.3" height="40.3" fill="#f5d18f"/>
<text x="1207.6" y="3072.3" text-anchor="middle" font-size="15" fill="#67615f">*</text>
<text x="1441.7" y="3074.8" font-size="35.3" fill="#2e2e2e">Anaerovoracaceae_Unassigned</text>
<rect x="194.8" y="3090.3" width="30.6" height="40.3" fill="#e0575b"/>
<rect x="267.1" y="3090.3" width="374.3" height="40.3" fill="#f5c989"/>
<text x="453.2" y="3118.0" text-anchor="middle" font-size="15" fill="#67615f">*</text>
<rect x="646.6" y="3090.3" width="372.0" height="40.3" fill="#f3b57d"/>
<text x="830.4" y="3118.0" text-anchor="middle" font-size="15" fill="#67615f">*</text>
<rect x="1023.8" y="3090.3" width="375.3" height="40.3" fill="#f2b27b"/>
<text x="1207.6" y="3118.0" text-anchor="middle" font-size="15" fill="#67615f">*</text>
<text x="1441.7" y="3120.6" font-size="35.3" fill="#2e2e2e">Monoglobus</text>
<rect x="194.8" y="3136.1" width="30.6" height="40.3" fill="#e0575b"/>
<rect x="267.1" y="3136.1" width="374.3" height="40.3" fill="#f4c385"/>
<text x="453.2" y="3163.7" text-anchor="middle" font-size="15" fill="#67615f">*</text>
<rect x="646.6" y="3136.1" width="372.0" height="40.3" fill="#f5d390"/>
<text x="830.4" y="3163.7" text-anchor="middle" font-size="15" fill="#67615f">*</text>
<rect x="1023.8" y="3136.1" width="375.3" height="40.3" fill="#f6eeaa"/>
<text x="1207.6" y="3163.7" text-anchor="middle" font-size="15" fill="#67615f">*</text>
<text x="1441.7" y="3166.3" font-size="35.3" fill="#2e2e2e">Oscillospira</text>
<rect x="194.8" y="3181.8" width="30.6" height="40.3" fill="#e0575b"/>
<rect x="267.1" y="3181.8" width="374.3" height="40.3" fill="#f2f4b9"/>
<rect x="646.6" y="3181.8" width="372.0" height="40.3" fill="#f6f1ad"/>
<rect x="1023.8" y="3181.8" width="375.3" height="40.3" fill="#f6f1ad"/>
<text x="1441.7" y="3212.1" font-size="35.3" fill="#2e2e2e">Phocea</text>
<rect x="194.8" y="3227.5" width="30.6" height="40.3" fill="#e0575b"/>
<rect x="267.1" y="3227.5" width="374.3" height="40.3" fill="#ef8a64"/>
<text x="453.2" y="3255.2" text-anchor="middle" font-size="15" fill="#67615f">*</text>
<rect x="646.6" y="3227.5" width="372.0" height="40.3" fill="#ee8461"/>
<text x="830.4" y="3255.2" text-anchor="middle" font-size="15" fill="#67615f">*</text>
<rect x="1023.8" y="3227.5" width="375.3" height="40.3" fill="#f1a675"/>
<text x="1207.6" y="3255.2" text-anchor="middle" font-size="15" fill="#67615f">*</text>
<text x="1441.7" y="3257.8" font-size="35.3" fill="#2e2e2e">Oscillibacter</text>
<rect x="194.8" y="3273.2" width="30.6" height="40.3" fill="#e0575b"/>
<rect x="267.1" y="3273.2" width="374.3" height="40.3" fill="#ef8c66"/>
<text x="453.2" y="3300.9" text-anchor="middle" font-size="15" fill="#67615f">*</text>
<rect x="646.6" y="3273.2" width="372.0" height="40.3" fill="#f3b57d"/>
<text x="830.4" y="3300.9" text-anchor="middle" font-size="15" fill="#67615f">*</text>
<rect x="1023.8" y="3273.2" width="375.3" height="40.3" fill="#f6e5a1"/>
<text x="1207.6" y="3300.9" text-anchor="middle" font-size="15" fill="#67615f">*</text>
<text x="1441.7" y="3303.5" font-size="35.3" fill="#2e2e2e">UCG_009</text>
<rect x="194.8" y="3319.0" width="30.6" height="40.3" fill="#e0575b"/>
<rect x="267.1" y="3319.0" width="374.3" height="40.3" fill="#c64235"/>
<text x="453.2" y="3346.6" text-anchor="middle" font-size="15" fill="#67615f">*</text>
<rect x="646.6" y="3319.0" width="372.0" height="40.3" fill="#d75d47"/>
<text x="830.4" y="3346.6" text-anchor="middle" font-size="15" fill="#67615f">*</text>
<rect x="1023.8" y="3319.0" width="375.3" height="40.3" fill="#f1a373"/>
<text x="1207.6" y="3346.6" text-anchor="middle" font-size="15" fill="#67615f">*</text>
<text x="1441.7" y="3349.3" font-size="35.3" fill="#2e2e2e">UCG_002</text>
<rect x="194.8" y="3364.7" width="30.6" height="40.3" fill="#e0575b"/>
<rect x="267.1" y="3364.7" width="374.3" height="40.3" fill="#f5e09d"/>
<text x="453.2" y="3392.4" text-anchor="middle" font-size="15" fill="#67615f">*</text>
<rect x="646.6" y="3364.7" width="372.0" height="40.3" fill="#f6e5a1"/>
<text x="830.4" y="3392.4" text-anchor="middle" font-size="15" fill="#67615f">*</text>
<rect x="1023.8" y="3364.7" width="375.3" height="40.3" fill="#f6eda8"/>
<text x="1207.6" y="3392.4" text-anchor="middle" font-size="15" fill="#67615f">*</text>
<text x="1441.7" y="3395.0" font-size="35.3" fill="#2e2e2e">UCG_008</text>
<rect x="194.8" y="3410.4" width="30.6" height="40.3" fill="#e0575b"/>
<rect x="267.1" y="3410.4" width="374.3" height="40.3" fill="#d65b45"/>
<text x="453.2" y="3438.1" text-anchor="middle" font-size="15" fill="#67615f">*</text>
<rect x="646.6" y="3410.4" width="372.0" height="40.3" fill="#e06b50"/>
<text x="830.4" y="3438.1" text-anchor="middle" font-size="15" fill="#67615f">*</text>
<rect x="1023.8" y="3410.4" width="375.3" height="40.3" fill="#f4c084"/>
<text x="1207.6" y="3438.1" text-anchor="middle" font-size="15" fill="#67615f">*</text>
<text x="1441.7" y="3440.8" font-size="35.3" fill="#2e2e2e">Clostridia_Unassigned</text>
<rect x="194.8" y="3456.1" width="30.6" height="40.3" fill="#e0575b"/>
<rect x="267.1" y="3456.1" width="374.3" height="40.3" fill="#cb4a3a"/>
<text x="453.2" y="3483.8" text-anchor="middle" font-size="15" fill="#67615f">*</text>
<rect x="646.6" y="3456.1" width="372.0" height="40.3" fill="#e77658"/>
<text x="830.4" y="3483.8" text-anchor="middle" font-size="15" fill="#67615f">*</text>
<rect x="1023.8" y="3456.1" width="375.3" height="40.3" fill="#f5c989"/>
<text x="1207.6" y="3483.8" text-anchor="middle" font-size="15" fill="#67615f">*</text>
<text x="1441.7" y="3486.5" font-size="35.3" fill="#2e2e2e">UCG_010</text>
<rect x="194.8" y="3501.9" width="30.6" height="40.3" fill="#e0575b"/>
<rect x="267.1" y="3501.9" width="374.3" height="40.3" fill="#ed815f"/>
<text x="453.2" y="3529.5" text-anchor="middle" font-size="15" fill="#67615f">*</text>
<rect x="646.6" y="3501.9" width="372.0" height="40.3" fill="#ef8c66"/>
<text x="830.4" y="3529.5" text-anchor="middle" font-size="15" fill="#67615f">*</text>
<rect x="1023.8" y="3501.9" width="375.3" height="40.3" fill="#f5c989"/>
<text x="1207.6" y="3529.5" text-anchor="middle" font-size="15" fill="#67615f">*</text>
<text x="1441.7" y="3532.3" font-size="35.3" fill="#2e2e2e">Victivallis</text>
<rect x="194.8" y="3547.6" width="30.6" height="40.3" fill="#e0575b"/>
<rect x="267.1" y="3547.6" width="374.3" height="40.3" fill="#f5d693"/>
<text x="453.2" y="3575.3" text-anchor="middle" font-size="15" fill="#67615f">*</text>
<rect x="646.6" y="3547.6" width="372.0" height="40.3" fill="#f5d492"/>
<text x="830.4" y="3575.3" text-anchor="middle" font-size="15" fill="#67615f">*</text>
<rect x="1023.8" y="3547.6" width="375.3" height="40.3" fill="#f6e29e"/>
<text x="1207.6" y="3575.3" text-anchor="middle" font-size="15" fill="#67615f">*</text>
<text x="1441.7" y="3578.0" font-size="35.3" fill="#2e2e2e">Negativibacillus</text>
<rect x="194.8" y="3593.3" width="30.6" height="40.3" fill="#e0575b"/>
<rect x="267.1" y="3593.3" width="374.3" height="40.3" fill="#ee8461"/>
<text x="453.2" y="3621.0" text-anchor="middle" font-size="15" fill="#67615f">*</text>
<rect x="646.6" y="3593.3" width="372.0" height="40.3" fill="#ed815f"/>
<text x="830.4" y="3621.0" text-anchor="middle" font-size="15" fill="#67615f">*</text>
<rect x="1023.8" y="3593.3" width="375.3" height="40.3" fill="#f3b57d"/>
<text x="1207.6" y="3621.0" text-anchor="middle" font-size="15" fill="#67615f">*</text>
<text x="1441.7" y="3623.8" font-size="35.3" fill="#2e2e2e">Ruminococcus</text>
<rect x="194.8" y="3639.0" width="30.6" height="40.3" fill="#e0575b"/>
<rect x="267.1" y="3639.0" width="374.3" height="40.3" fill="#d75d47"/>
<text x="453.2" y="3666.7" text-anchor="middle" font-size="15" fill="#67615f">*</text>
<rect x="646.6" y="3639.0" width="372.0" height="40.3" fill="#e06b50"/>
<text x="830.4" y="3666.7" text-anchor="middle" font-size="15" fill="#67615f">*</text>
<rect x="1023.8" y="3639.0" width="375.3" height="40.3" fill="#f2b27b"/>
<text x="1207.6" y="3666.7" text-anchor="middle" font-size="15" fill="#67615f">*</text>
<text x="1441.7" y="3669.5" font-size="35.3" fill="#2e2e2e">Eubacterium__coprostanoligenes_group</text>
<rect x="194.8" y="3684.8" width="30.6" height="40.3" fill="#e0575b"/>
<rect x="267.1" y="3684.8" width="374.3" height="40.3" fill="#d75d47"/>
<text x="453.2" y="3712.4" text-anchor="middle" font-size="15" fill="#67615f">*</text>
<rect x="646.6" y="3684.8" width="372.0" height="40.3" fill="#e8795a"/>
<text x="830.4" y="3712.4" text-anchor="middle" font-size="15" fill="#67615f">*</text>
<rect x="1023.8" y="3684.8" width="375.3" height="40.3" fill="#f4c385"/>
<text x="1207.6" y="3712.4" text-anchor="middle" font-size="15" fill="#67615f">*</text>
<text x="1441.7" y="3715.3" font-size="35.3" fill="#2e2e2e">Ruminococcaceae_Unassigned_1</text>
<rect x="194.8" y="3730.5" width="30.6" height="40.3" fill="#e0575b"/>
<rect x="267.1" y="3730.5" width="374.3" height="40.3" fill="#f5d492"/>
<text x="453.2" y="3758.2" text-anchor="middle" font-size="15" fill="#67615f">*</text>
<rect x="646.6" y="3730.5" width="372.0" height="40.3" fill="#f5d492"/>
<text x="830.4" y="3758.2" text-anchor="middle" font-size="15" fill="#67615f">*</text>
<rect x="1023.8" y="3730.5" width="375.3" height="40.3" fill="#f5df9c"/>
<text x="1207.6" y="3758.2" text-anchor="middle" font-size="15" fill="#67615f">*</text>
<text x="1441.7" y="3761.0" font-size="35.3" fill="#2e2e2e">Christensenellaceae_Unassigned_1</text>
<rect x="194.8" y="3776.2" width="30.6" height="40.3" fill="#e0575b"/>
<rect x="267.1" y="3776.2" width="374.3" height="40.3" fill="#f5cf8d"/>
<text x="453.2" y="3803.9" text-anchor="middle" font-size="15" fill="#67615f">*</text>
<rect x="646.6" y="3776.2" width="372.0" height="40.3" fill="#f5d693"/>
<text x="830.4" y="3803.9" text-anchor="middle" font-size="15" fill="#67615f">*</text>
<rect x="1023.8" y="3776.2" width="375.3" height="40.3" fill="#f6eba7"/>
<text x="1207.6" y="3803.9" text-anchor="middle" font-size="15" fill="#67615f">*</text>
<text x="1441.7" y="3806.8" font-size="35.3" fill="#2e2e2e">Bacteroidales_Unassigned_1</text>
<rect x="194.8" y="3821.9" width="30.6" height="40.3" fill="#e0575b"/>
<rect x="267.1" y="3821.9" width="374.3" height="40.3" fill="#ee8763"/>
<text x="453.2" y="3849.6" text-anchor="middle" font-size="15" fill="#67615f">*</text>
<rect x="646.6" y="3821.9" width="372.0" height="40.3" fill="#ee8461"/>
<text x="830.4" y="3849.6" text-anchor="middle" font-size="15" fill="#67615f">*</text>
<rect x="1023.8" y="3821.9" width="375.3" height="40.3" fill="#f3b57d"/>
<text x="1207.6" y="3849.6" text-anchor="middle" font-size="15" fill="#67615f">*</text>
<text x="1441.7" y="3852.5" font-size="35.3" fill="#2e2e2e">Alistipes</text>
<rect x="194.8" y="3867.7" width="30.6" height="40.3" fill="#e0575b"/>
<rect x="267.1" y="3867.7" width="374.3" height="40.3" fill="#f5cc8a"/>
<text x="453.2" y="3895.3" text-anchor="middle" font-size="15" fill="#67615f">*</text>
<rect x="646.6" y="3867.7" width="372.0" height="40.3" fill="#f2ac78"/>
<text x="830.4" y="3895.3" text-anchor="middle" font-size="15" fill="#67615f">*</text>
<rect x="1023.8" y="3867.7" width="375.3" height="40.3" fill="#f2b27b"/>
<text x="1207.6" y="3895.3" text-anchor="middle" font-size="15" fill="#67615f">*</text>
<text x="1441.7" y="3898.3" font-size="35.3" fill="#2e2e2e">Lachnospiraceae_UCG_001</text>
<rect x="194.8" y="3913.4" width="30.6" height="40.3" fill="#e0575b"/>
<rect x="267.1" y="3913.4" width="374.3" height="40.3" fill="#f5da97"/>
<text x="453.2" y="3941.1" text-anchor="middle" font-size="15" fill="#67615f">*</text>
<rect x="646.6" y="3913.4" width="372.0" height="40.3" fill="#f5e09d"/>
<text x="830.4" y="3941.1" text-anchor="middle" font-size="15" fill="#67615f">*</text>
<rect x="1023.8" y="3913.4" width="375.3" height="40.3" fill="#f6f3ae"/>
<text x="1441.7" y="3944.0" font-size="35.3" fill="#2e2e2e">Dialister</text>
<rect x="194.8" y="3959.1" width="30.6" height="40.3" fill="#e0575b"/>
<rect x="267.1" y="3959.1" width="374.3" height="40.3" fill="#f1a172"/>
<text x="453.2" y="3986.8" text-anchor="middle" font-size="15" fill="#67615f">*</text>
<rect x="646.6" y="3959.1" width="372.0" height="40.3" fill="#f09b6e"/>
<text x="830.4" y="3986.8" text-anchor="middle" font-size="15" fill="#67615f">*</text>
<rect x="1023.8" y="3959.1" width="375.3" height="40.3" fill="#f4c385"/>
<text x="1207.6" y="3986.8" text-anchor="middle" font-size="15" fill="#67615f">*</text>
<text x="1441.7" y="3989.8" font-size="35.3" fill="#2e2e2e">Ruminococcaceae_Unassigned</text>
<rect x="194.8" y="4004.8" width="30.6" height="40.3" fill="#e0575b"/>
<rect x="267.1" y="4004.8" width="374.3" height="40.3" fill="#f5dc99"/>
<text x="453.2" y="4032.5" text-anchor="middle" font-size="15" fill="#67615f">*</text>
<rect x="646.6" y="4004.8" width="372.0" height="40.3" fill="#f5da97"/>
<text x="830.4" y="4032.5" text-anchor="middle" font-size="15" fill="#67615f">*</text>
<rect x="1023.8" y="4004.8" width="375.3" height="40.3" fill="#f5df9c"/>
<text x="1207.6" y="4032.5" text-anchor="middle" font-size="15" fill="#67615f">*</text>
<text x="1441.7" y="4035.5" font-size="35.3" fill="#2e2e2e">Eubacterium__ventriosum_group</text>
<rect x="194.8" y="4050.6" width="30.6" height="40.3" fill="#e0575b"/>
<rect x="267.1" y="4050.6" width="374.3" height="40.3" fill="#f5d492"/>
<text x="453.2" y="4078.2" text-anchor="middle" font-size="15" fill="#67615f">*</text>
<rect x="646.6" y="4050.6" width="372.0" height="40.3" fill="#f5d492"/>
<text x="830.4" y="4078.2" text-anchor="middle" font-size="15" fill="#67615f">*</text>
<rect x="1023.8" y="4050.6" width="375.3" height="40.3" fill="#f5e09d"/>
<text x="1207.6" y="4078.2" text-anchor="middle" font-size="15" fill="#67615f">*</text>
<text x="1441.7" y="4081.3" font-size="35.3" fill="#2e2e2e">Intestinimonas</text>
<rect x="194.8" y="4096.3" width="30.6" height="40.3" fill="#56b189"/>
<rect x="267.1" y="4096.3" width="374.3" height="40.3" fill="#f1f4bc"/>
<rect x="646.6" y="4096.3" width="372.0" height="40.3" fill="#eff3c0"/>
<rect x="1023.8" y="4096.3" width="375.3" height="40.3" fill="#edf3c5"/>
<text x="1441.7" y="4127.0" font-size="35.3" fill="#2e2e2e">Eisenbergiella</text>
<rect x="194.8" y="4142.0" width="30.6" height="40.3" fill="#56b189"/>
<rect x="267.1" y="4142.0" width="374.3" height="40.3" fill="#a9c3d1"/>
<text x="453.2" y="4169.7" text-anchor="middle" font-size="15" fill="#67615f">*</text>
<rect x="646.6" y="4142.0" width="372.0" height="40.3" fill="#bad2dc"/>
<text x="830.4" y="4169.7" text-anchor="middle" font-size="15" fill="#67615f">*</text>
<rect x="1023.8" y="4142.0" width="375.3" height="40.3" fill="#ddefea"/>
<text x="1441.7" y="4172.8" font-size="35.3" fill="#2e2e2e">Veillonella</text>
<rect x="194.8" y="4187.7" width="30.6" height="40.3" fill="#56b189"/>
<rect x="267.1" y="4187.7" width="374.3" height="40.3" fill="#f1f4bc"/>
<rect x="646.6" y="4187.7" width="372.0" height="40.3" fill="#e8f1d2"/>
<rect x="1023.8" y="4187.7" width="375.3" height="40.3" fill="#e3f0de"/>
<text x="1441.7" y="4218.5" font-size="35.3" fill="#2e2e2e">Porphyromonas</text>
<rect x="194.8" y="4233.5" width="30.6" height="40.3" fill="#56b189"/>
<rect x="267.1" y="4233.5" width="374.3" height="40.3" fill="#c3d9e1"/>
<text x="453.2" y="4261.1" text-anchor="middle" font-size="15" fill="#67615f">*</text>
<rect x="646.6" y="4233.5" width="372.0" height="40.3" fill="#e3f0de"/>
<rect x="1023.8" y="4233.5" width="375.3" height="40.3" fill="#f5f5b2"/>
<text x="1441.7" y="4264.3" font-size="35.3" fill="#2e2e2e">Bacteroides</text>
<rect x="194.8" y="4279.2" width="30.6" height="40.3" fill="#56b189"/>
<rect x="267.1" y="4279.2" width="374.3" height="40.3" fill="#f6e7a3"/>
<text x="453.2" y="4306.9" text-anchor="middle" font-size="15" fill="#67615f">*</text>
<rect x="646.6" y="4279.2" width="372.0" height="40.3" fill="#f6eba7"/>
<text x="830.4" y="4306.9" text-anchor="middle" font-size="15" fill="#67615f">*</text>
<rect x="1023.8" y="4279.2" width="375.3" height="40.3" fill="#f6f1ad"/>
<text x="1441.7" y="4310.0" font-size="35.3" fill="#2e2e2e">UBA1819</text>
<rect x="194.8" y="4324.9" width="30.6" height="40.3" fill="#56b189"/>
<rect x="267.1" y="4324.9" width="374.3" height="40.3" fill="#ebf2ca"/>
<rect x="646.6" y="4324.9" width="372.0" height="40.3" fill="#edf3c5"/>
<rect x="1023.8" y="4324.9" width="375.3" height="40.3" fill="#f0f3be"/>
<text x="1441.7" y="4355.8" font-size="35.3" fill="#2e2e2e">Eubacterium__fissicatena_group</text>
<rect x="194.8" y="4370.6" width="30.6" height="40.3" fill="#56b189"/>
<rect x="267.1" y="4370.6" width="374.3" height="40.3" fill="#dfefe5"/>
<rect x="646.6" y="4370.6" width="372.0" height="40.3" fill="#e1efe3"/>
<rect x="1023.8" y="4370.6" width="375.3" height="40.3" fill="#e6f1d7"/>
<text x="1441.7" y="4401.5" font-size="35.3" fill="#2e2e2e">Parvimonas</text>
<rect x="194.8" y="4416.4" width="30.6" height="40.3" fill="#f28b39"/>
<rect x="267.1" y="4416.4" width="374.3" height="40.3" fill="#e57356"/>
<text x="453.2" y="4444.0" text-anchor="middle" font-size="15" fill="#67615f">*</text>
<rect x="646.6" y="4416.4" width="372.0" height="40.3" fill="#ef8a64"/>
<text x="830.4" y="4444.0" text-anchor="middle" font-size="15" fill="#67615f">*</text>
<rect x="1023.8" y="4416.4" width="375.3" height="40.3" fill="#f5cf8d"/>
<text x="1207.6" y="4444.0" text-anchor="middle" font-size="15" fill="#67615f">*</text>
<text x="1441.7" y="4447.2" font-size="35.3" fill="#2e2e2e">Clostridia_vadinBB60_group</text>
<rect x="194.8" y="4462.1" width="30.6" height="40.3" fill="#f28b39"/>
<rect x="267.1" y="4462.1" width="374.3" height="40.3" fill="#f6eeaa"/>
<rect x="646.6" y="4462.1" width="372.0" height="40.3" fill="#f6eda8"/>
<text x="830.4" y="4489.8" text-anchor="middle" font-size="15" fill="#67615f">*</text>
<rect x="1023.8" y="4462.1" width="375.3" height="40.3" fill="#f5f5b2"/>
<text x="1441.7" y="4493.0" font-size="35.3" fill="#2e2e2e">Lachnospiraceae_Unassigned</text>
<rect x="194.8" y="4507.8" width="30.6" height="40.3" fill="#f28b39"/>
<rect x="267.1" y="4507.8" width="374.3" height="40.3" fill="#e8795a"/>
<text x="453.2" y="4535.5" text-anchor="middle" font-size="15" fill="#67615f">*</text>
<rect x="646.6" y="4507.8" width="372.0" height="40.3" fill="#ef8c66"/>
<text x="830.4" y="4535.5" text-anchor="middle" font-size="15" fill="#67615f">*</text>
<rect x="1023.8" y="4507.8" width="375.3" height="40.3" fill="#f5cc8a"/>
<text x="1207.6" y="4535.5" text-anchor="middle" font-size="15" fill="#67615f">*</text>
<text x="1441.7" y="4538.7" font-size="35.3" fill="#2e2e2e">RF39</text>
<rect x="194.8" y="4553.6" width="30.6" height="40.3" fill="#f28b39"/>
<rect x="267.1" y="4553.6" width="374.3" height="40.3" fill="#f09269"/>
<text x="453.2" y="4581.2" text-anchor="middle" font-size="15" fill="#67615f">*</text>
<rect x="646.6" y="4553.6" width="372.0" height="40.3" fill="#f2a976"/>
<text x="830.4" y="4581.2" text-anchor="middle" font-size="15" fill="#67615f">*</text>
<rect x="1023.8" y="4553.6" width="375.3" height="40.3" fill="#f5da97"/>
<text x="1207.6" y="4581.2" text-anchor="middle" font-size="15" fill="#67615f">*</text>
<text x="1441.7" y="4584.5" font-size="35.3" fill="#2e2e2e">Peptococcaceae_Unassigned</text>
<rect x="194.8" y="4599.3" width="30.6" height="40.3" fill="#f28b39"/>
<rect x="267.1" y="4599.3" width="374.3" height="40.3" fill="#f6eaa6"/>
<text x="453.2" y="4626.9" text-anchor="middle" font-size="15" fill="#67615f">*</text>
<rect x="646.6" y="4599.3" width="372.0" height="40.3" fill="#f5e09d"/>
<text x="830.4" y="4626.9" text-anchor="middle" font-size="15" fill="#67615f">*</text>
<rect x="1023.8" y="4599.3" width="375.3" height="40.3" fill="#f6e7a3"/>
<text x="1207.6" y="4626.9" text-anchor="middle" font-size="15" fill="#67615f">*</text>
<text x="1441.7" y="4630.2" font-size="35.3" fill="#2e2e2e">Lactococcus</text>
<rect x="194.8" y="4645.0" width="30.6" height="40.3" fill="#f28b39"/>
<rect x="267.1" y="4645.0" width="374.3" height="40.3" fill="#f5da97"/>
<text x="453.2" y="4672.7" text-anchor="middle" font-size="15" fill="#67615f">*</text>
<rect x="646.6" y="4645.0" width="372.0" height="40.3" fill="#f5e09d"/>
<text x="830.4" y="4672.7" text-anchor="middle" font-size="15" fill="#67615f">*</text>
<rect x="1023.8" y="4645.0" width="375.3" height="40.3" fill="#f6eba7"/>
<text x="1207.6" y="4672.7" text-anchor="middle" font-size="15" fill="#67615f">*</text>
<text x="1441.7" y="4676.0" font-size="35.3" fill="#2e2e2e">Roseburia</text>
<rect x="194.8" y="4690.7" width="30.6" height="40.3" fill="#f28b39"/>
<rect x="267.1" y="4690.7" width="374.3" height="40.3" fill="#f6f1ad"/>
<rect x="646.6" y="4690.7" width="372.0" height="40.3" fill="#f6e7a3"/>
<text x="830.4" y="4718.4" text-anchor="middle" font-size="15" fill="#67615f">*</text>
<rect x="1023.8" y="4690.7" width="375.3" height="40.3" fill="#f6eeaa"/>
<text x="1207.6" y="4718.4" text-anchor="middle" font-size="15" fill="#67615f">*</text>
<text x="1441.7" y="4721.7" font-size="35.3" fill="#2e2e2e">Lachnospiraceae_NC2004_group</text>
<rect x="194.8" y="4736.4" width="30.6" height="40.3" fill="#f28b39"/>
<rect x="267.1" y="4736.4" width="374.3" height="40.3" fill="#f0956b"/>
<text x="453.2" y="4764.1" text-anchor="middle" font-size="15" fill="#67615f">*</text>
<rect x="646.6" y="4736.4" width="372.0" height="40.3" fill="#f2a976"/>
<text x="830.4" y="4764.1" text-anchor="middle" font-size="15" fill="#67615f">*</text>
<rect x="1023.8" y="4736.4" width="375.3" height="40.3" fill="#f5d18f"/>
<text x="1207.6" y="4764.1" text-anchor="middle" font-size="15" fill="#67615f">*</text>
<text x="1441.7" y="4767.5" font-size="35.3" fill="#2e2e2e">Izemoplasmatales</text>
<rect x="194.8" y="4782.2" width="30.6" height="41.2" fill="#f28b39"/>
<rect x="267.1" y="4782.2" width="374.3" height="41.2" fill="#f0f3be"/>
<rect x="646.6" y="4782.2" width="372.0" height="41.2" fill="#eef3c3"/>
<rect x="1023.8" y="4782.2" width="375.3" height="41.2" fill="#eef3c3"/>
<text x="1441.7" y="4813.2" font-size="35.3" fill="#2e2e2e">Clostridium_sensu_stricto_1</text>
<text x="455.4" y="2028.5" text-anchor="middle" font-size="35.2" font-weight="bold" fill="#2e2e2e" stroke="#fefefd" stroke-width="0.6">Observed OTUs</text>
<text x="832.6" y="2028.5" text-anchor="middle" font-size="35.2" font-weight="bold" fill="#2e2e2e" stroke="#fefefd" stroke-width="0.6">Shannon diversity</text>
<text x="1209.8" y="2028.5" text-anchor="middle" font-size="35.2" font-weight="bold" fill="#2e2e2e" stroke="#fefefd" stroke-width="0.6">Evenness</text>
<text transform="translate(141,3456.5) rotate(-90)" text-anchor="middle" font-size="35.2" font-weight="bold" fill="#2e2e2e" stroke="#fefefd" stroke-width="0.5">Group</text>
<defs><linearGradient id="cb" x1="0" y1="0" x2="0" y2="1"><stop offset="0.00%" stop-color="#c23b30"/><stop offset="16.68%" stop-color="#ee8260"/><stop offset="33.35%" stop-color="#f5cd8b"/><stop offset="49.97%" stop-color="#f6f5b0"/><stop offset="66.65%" stop-color="#dbeef0"/><stop offset="83.32%" stop-color="#92afc3"/><stop offset="100.00%" stop-color="#5b6a9c"/></linearGradient></defs>
<rect x="2140.4" y="2078.5" width="47.2" height="668.6" fill="url(#cb)"/>
<text x="2205.6" y="2127.6" font-size="35.3" fill="#333">0.8</text>
<text x="2205.6" y="2213.4" font-size="35.3" fill="#333">0.6</text>
<text x="2205.6" y="2299.2" font-size="35.3" fill="#333">0.4</text>
<text x="2205.6" y="2385.0" font-size="35.3" fill="#333">0.2</text>
<text x="2205.6" y="2470.8" font-size="35.3" fill="#333">0</text>
<text x="2205.6" y="2556.6" font-size="35.3" fill="#333">−0.2</text>
<text x="2205.6" y="2642.4" font-size="35.3" fill="#333">−0.4</text>
<text x="2205.6" y="2728.2" font-size="35.3" fill="#333">−0.6</text>
<text x="2144" y="2902" font-size="33.6" font-weight="bold" fill="#2e2e2e" stroke="#fefefd" stroke-width="0.6">Group</text>
<rect x="2140.1" y="2952" width="56" height="311" fill="#978d89"/>
<rect x="2145.3" y="2957.1" width="45.6" height="45.8" fill="#65696c"/>
<text x="2205.2" y="2992.5" font-size="35" fill="#333">Common v3</text>
<rect x="2145.3" y="3008.1" width="45.6" height="45.8" fill="#484848"/>
<text x="2205.2" y="3043.5" font-size="35" fill="#333">Common v4</text>
<rect x="2145.3" y="3059.1" width="45.6" height="45.8" fill="#6794c8"/>
<text x="2205.2" y="3094.5" font-size="35" fill="#333">Placebo v3</text>
<rect x="2145.3" y="3110.1" width="45.6" height="45.8" fill="#e0575b"/>
<text x="2205.2" y="3145.5" font-size="35" fill="#333">Placebo v4</text>
<rect x="2145.3" y="3161.1" width="45.6" height="45.8" fill="#56b189"/>
<text x="2205.2" y="3196.5" font-size="35" fill="#333">Active v3</text>
<rect x="2145.3" y="3212.1" width="45.6" height="45.8" fill="#f28b39"/>
<text x="2205.2" y="3247.5" font-size="35" fill="#333">Active v4</text>
</g>
</svg>
</body></html>
